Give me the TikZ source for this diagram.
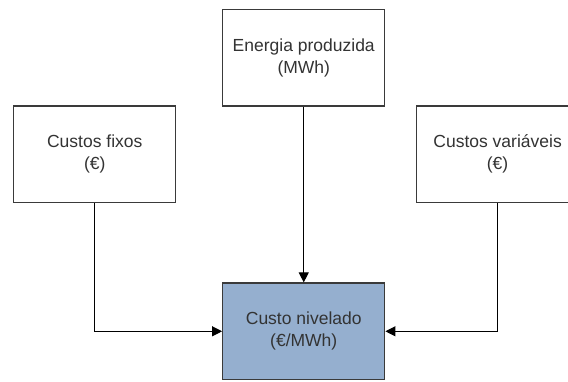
\documentclass[tikz,border=0pt]{standalone}
\usepackage{fontspec}
\setmainfont{Liberation Sans}
\usetikzlibrary{arrows.meta}
\definecolor{linegray}{HTML}{3A3A3A}
\definecolor{txtgray}{HTML}{333333}
\definecolor{blueish}{HTML}{95AFCF}
\tikzset{
  box/.style={draw=linegray, line width=1.3pt, minimum width=162pt, minimum height=96.5pt,
    inner sep=0pt, align=center, text=txtgray, font=\fontsize{17.5}{22}\selectfont, fill=white},
  conn/.style={draw=black, line width=1.1pt, -{Triangle[length=10pt,width=10pt]}}
}
\begin{document}
\begin{tikzpicture}[x=1pt,y=-1pt]
\useasboundingbox (0,0) rectangle (568,381);
\clip (0,0) rectangle (568,381);
\node[box] (energia) at (303.75,57.7) {Energia produzida\\(MWh)};
\node[box] (fixos) at (94.75,154.3) {Custos fixos\\(€)};
\node[box] (variaveis) at (497.6,154.3) {Custos variáveis\\(€)};
\node[box, fill=blueish] (nivelado) at (303.75,331.3) {Custo nivelado\\(€/MWh)};
\draw[conn] (energia.south) -- (nivelado.north);
\draw[conn] (fixos.south) |- (nivelado.west);
\draw[conn] (variaveis.south) |- (nivelado.east);
\end{tikzpicture}
\end{document}
